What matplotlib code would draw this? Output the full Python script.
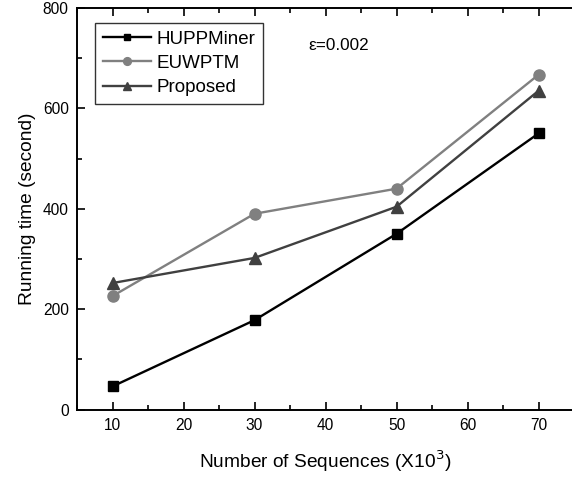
import matplotlib
matplotlib.use("Agg")
import matplotlib.pyplot as plt
from matplotlib.ticker import MultipleLocator

plt.rcParams['font.family'] = ['Liberation Sans', 'DejaVu Sans']

x = [10, 30, 50, 70]
huppminer = [46, 178, 350, 550]
euwptm = [226, 390, 440, 667]
proposed = [252, 302, 404, 635]

W, H = 572, 479
fig = plt.figure(figsize=(W / 100, H / 100), dpi=100)
ax = fig.add_axes([77 / W, 1 - 409.5 / H, (574 - 77) / W, (409.5 - 8) / H])

ax.plot(x, huppminer, color='black', lw=1.7, marker='s', ms=7, label='HUPPMiner')
ax.plot(x, euwptm, color='#808080', lw=1.7, marker='o', ms=8, label='EUWPTM')
ax.plot(x, proposed, color='#404040', lw=1.7, marker='^', ms=8.5, label='Proposed')

ax.set_xlim(5, 75)
ax.set_ylim(0, 800)
ax.xaxis.set_major_locator(MultipleLocator(10))
ax.xaxis.set_minor_locator(MultipleLocator(5))
ax.yaxis.set_major_locator(MultipleLocator(200))
ax.yaxis.set_minor_locator(MultipleLocator(100))
ax.tick_params(which='both', direction='in', top=True, right=False, labelsize=11.2, width=1.2)
ax.tick_params(which='major', length=6, pad=6)
ax.tick_params(which='minor', length=3.5)
for s in ax.spines.values():
    s.set_linewidth(1.4)

ax.set_xlabel('Number of Sequences (X10$^3$)', fontsize=13.8, labelpad=11)
ax.set_ylabel('Running time (second)', fontsize=13.8, labelpad=5)

leg = ax.legend(loc='upper left', bbox_to_anchor=((95 - 77) / 497, 1 - (23 - 8) / 401.5),
                fontsize=13.5, frameon=True, fancybox=False, edgecolor='black',
                borderpad=0.4, labelspacing=0.38, handlelength=2.6, handletextpad=0.3,
                borderaxespad=0, markerscale=0.7)
leg.get_frame().set_linewidth(1.0)

ax.text((308 - 77) / 497, 1 - (45 - 8) / 401.5, 'ε=0.002', transform=ax.transAxes,
        fontsize=12.3, va='center', ha='left')

fig.savefig('out.png', dpi=100)
